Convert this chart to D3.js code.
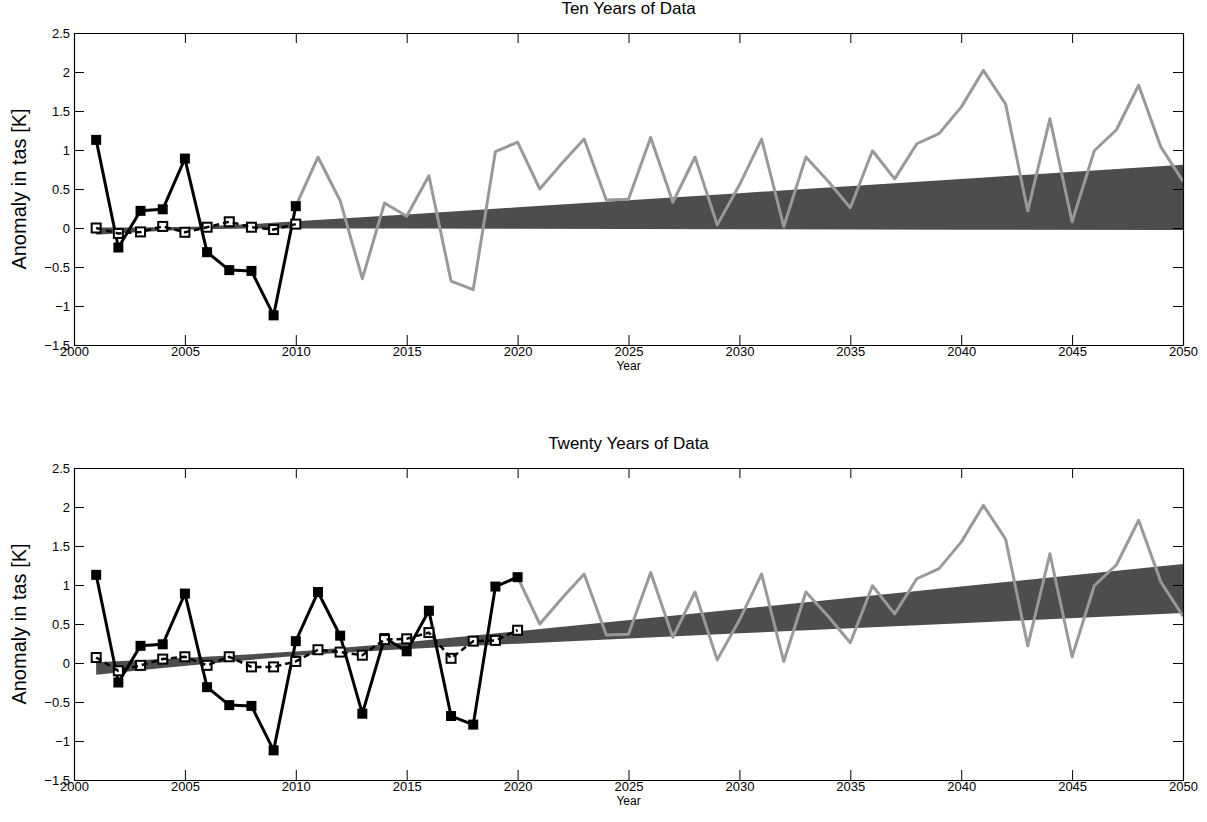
<!DOCTYPE html>
<html>
<head>
<meta charset="utf-8">
<script src="https://cdn.jsdelivr.net/npm/d3@7"></script>
<style>
  html, body { margin: 0; padding: 0; background: #fff; }
  svg { display: block; font-family: "Liberation Sans", Arial, Helvetica, sans-serif; }
</style>
</head>
<body>
<svg id="chart" width="1207" height="822"></svg>
<script>
// Annual near-surface air temperature anomaly (tas), observed years
const obsYears = d3.range(2001, 2021);
const obsValues = [1.13, -0.25, 0.22, 0.24, 0.89, -0.31, -0.54, -0.55, -1.12, 0.28,
                   0.91, 0.35, -0.65, 0.32, 0.15, 0.67, -0.68, -0.79, 0.98, 1.10];

// Continuation of the same series out to 2050
const futureYears = d3.range(2021, 2051);
const futureValues = [0.50, 0.83, 1.14, 0.36, 0.37, 1.16, 0.33, 0.91, 0.04, 0.55,
                      1.14, 0.02, 0.91, 0.60, 0.26, 0.99, 0.63, 1.08, 1.21, 1.55,
                      2.02, 1.59, 0.22, 1.40, 0.08, 0.99, 1.26, 1.83, 1.04, 0.60];

// Fitted values (open squares) from the ten- and twenty-year records
const fitTen = [0.00, -0.07, -0.05, 0.02, -0.055, 0.01, 0.08, 0.01, -0.02, 0.05];
const fitTwenty = [0.07, -0.10, -0.03, 0.05, 0.08, -0.03, 0.08, -0.05, -0.05, 0.02,
                   0.17, 0.14, 0.10, 0.30, 0.31, 0.39, 0.06, 0.28, 0.29, 0.42];

// Trend uncertainty bands (lower / upper edges)
const bandTenYears = [2001, 2003, 2005.5, 2008, 2010, 2015, 2020, 2030, 2040, 2050];
const bandTenLower = [-0.085, -0.05, -0.015, -0.006, -0.005, -0.007, -0.009, -0.015, -0.021, -0.027];
const bandTenUpper = [0.005, 0.006, 0.015, 0.05, 0.085, 0.174, 0.265, 0.447, 0.629, 0.811];

const bandTwentyYears = [2001, 2004, 2007, 2010.5, 2014, 2017, 2020, 2030, 2040, 2050];
const bandTwentyLower = [-0.15, -0.065, 0.017, 0.101, 0.163, 0.207, 0.248, 0.381, 0.511, 0.64];
const bandTwentyUpper = [0.01, 0.05, 0.095, 0.157, 0.241, 0.323, 0.408, 0.693, 0.981, 1.27];

// Axis ticks
const xTicks = d3.range(2000, 2051, 5);
const yTicks = [-1.5, -1, -0.5, 0, 0.5, 1, 1.5, 2, 2.5];

const titles = ["Ten Years of Data", "Twenty Years of Data"];
const xLabel = "Year";
const yLabel = "Anomaly in tas [K]";

const allYears = obsYears.concat(futureYears);
const allValues = obsValues.concat(futureValues);

const svg = d3.select("#chart");
const fmt = v => String(v).replace("-", "\u2212");

const panels = [
  { title: titles[0], top: 33, bottom: 345, nObs: 10, fit: fitTen,
    bandX: bandTenYears, bandLo: bandTenLower, bandHi: bandTenUpper },
  { title: titles[1], top: 468, bottom: 780, nObs: 20, fit: fitTwenty,
    bandX: bandTwentyYears, bandLo: bandTwentyLower, bandHi: bandTwentyUpper }
];

const left = 74, right = 1183;

panels.forEach((p, i) => {
  const x = d3.scaleLinear().domain([2000, 2050]).range([left, right]);
  const y = d3.scaleLinear().domain([-1.5, 2.5]).range([p.bottom, p.top]);
  const g = svg.append("g");

  const clipId = "clip" + i;
  svg.append("clipPath").attr("id", clipId)
    .append("rect").attr("x", left).attr("y", p.top)
    .attr("width", right - left).attr("height", p.bottom - p.top);

  const plot = g.append("g").attr("clip-path", `url(#${clipId})`);

  // uncertainty band
  const bandData = p.bandX.map((yr, k) => ({ yr, lo: p.bandLo[k], hi: p.bandHi[k] }));
  plot.append("path")
    .datum(bandData)
    .attr("d", d3.area().x(d => x(d.yr)).y0(d => y(d.lo)).y1(d => y(d.hi)))
    .attr("fill", "#4d4d4d");

  // series beyond the record used for the fit
  const grey = allYears.map((yr, k) => ({ yr, v: allValues[k] }))
    .filter(d => d.yr >= 2000 + p.nObs);
  plot.append("path")
    .datum(grey)
    .attr("d", d3.line().x(d => x(d.yr)).y(d => y(d.v)))
    .attr("fill", "none").attr("stroke", "#999999").attr("stroke-width", 3)
    .attr("stroke-linejoin", "round");

  // observed record
  const obs = obsYears.slice(0, p.nObs).map((yr, k) => ({ yr, v: obsValues[k] }));
  plot.append("path")
    .datum(obs)
    .attr("d", d3.line().x(d => x(d.yr)).y(d => y(d.v)))
    .attr("fill", "none").attr("stroke", "#000").attr("stroke-width", 3)
    .attr("stroke-linejoin", "round");
  plot.selectAll(".filled").data(obs).join("rect")
    .attr("x", d => x(d.yr) - 5).attr("y", d => y(d.v) - 5)
    .attr("width", 10).attr("height", 10).attr("fill", "#000");

  // fitted values
  const fit = obsYears.slice(0, p.nObs).map((yr, k) => ({ yr, v: p.fit[k] }));
  plot.selectAll(".open").data(fit).join("rect")
    .attr("x", d => x(d.yr) - 4.5).attr("y", d => y(d.v) - 4.5)
    .attr("width", 9).attr("height", 9)
    .attr("fill", "#fff").attr("stroke", "#000").attr("stroke-width", 2);
  plot.append("path")
    .datum(fit)
    .attr("d", d3.line().x(d => x(d.yr)).y(d => y(d.v)))
    .attr("fill", "none").attr("stroke", "#000").attr("stroke-width", 2.5)
    .attr("stroke-dasharray", "6,4");

  // axes with inward ticks on all four sides
  const tickLen = 10;
  const axB = g.append("g").attr("transform", `translate(0,${p.bottom})`)
    .call(d3.axisBottom(x).tickValues(xTicks).tickFormat(d3.format("d"))
      .tickSizeInner(-tickLen).tickSizeOuter(0).tickPadding(2));
  const axT = g.append("g").attr("transform", `translate(0,${p.top})`)
    .call(d3.axisTop(x).tickValues(xTicks).tickFormat("")
      .tickSizeInner(-tickLen).tickSizeOuter(0));
  const axL = g.append("g").attr("transform", `translate(${left},0)`)
    .call(d3.axisLeft(y).tickValues(yTicks).tickFormat(fmt)
      .tickSizeInner(-tickLen).tickSizeOuter(0).tickPadding(4));
  const axR = g.append("g").attr("transform", `translate(${right},0)`)
    .call(d3.axisRight(y).tickValues(yTicks).tickFormat("")
      .tickSizeInner(-tickLen).tickSizeOuter(0));
  [axB, axT, axL, axR].forEach(a => {
    a.selectAll("path.domain").attr("stroke", "#000").attr("stroke-width", 1.2);
    a.selectAll(".tick line").attr("stroke", "#000").attr("stroke-width", 1);
    a.selectAll("text").attr("fill", "#000").attr("font-size", 13)
      .attr("font-family", "Liberation Sans, Arial, sans-serif");
  });
  axL.selectAll(".tick text").attr("dy", "0.35em");

  // titles and labels
  g.append("text")
    .attr("x", (left + right) / 2).attr("y", p.top - 19)
    .attr("text-anchor", "middle").attr("font-size", 17)
    .text(p.title);
  g.append("text")
    .attr("x", (left + right) / 2).attr("y", p.bottom + 16)
    .attr("dy", "0.71em")
    .attr("text-anchor", "middle").attr("font-size", 12)
    .text(xLabel);
  g.append("text")
    .attr("transform", `translate(26,${(p.top + p.bottom) / 2}) rotate(-90)`)
    .attr("text-anchor", "middle").attr("font-size", 20)
    .text(yLabel);
});
</script>
</body>
</html>
